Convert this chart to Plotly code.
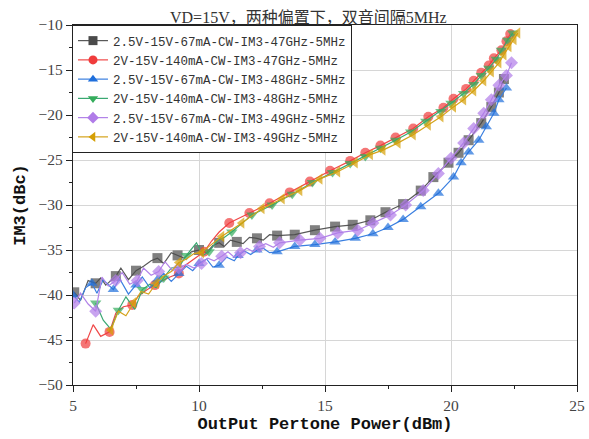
import plotly.graph_objects as go

# ---------------- data ----------------
names = [
    "2.5V-15V-67mA-CW-IM3-47GHz-5MHz",
    "2V-15V-140mA-CW-IM3-47GHz-5MHz",
    "2.5V-15V-67mA-CW-IM3-48GHz-5MHz",
    "2V-15V-140mA-CW-IM3-48GHz-5MHz",
    "2.5V-15V-67mA-CW-IM3-49GHz-5MHz",
    "2V-15V-140mA-CW-IM3-49GHz-5MHz",
]

# 2.5V 47GHz (black squares)
x_a = [5.05, 5.3, 5.6, 5.9, 6.1, 6.3, 6.7, 6.9, 7.2, 7.5, 7.8, 8.1, 8.35, 8.6, 8.9,
       9.15, 9.4, 9.7, 10.0, 10.3, 10.55, 10.8, 11.0, 11.25, 11.5, 11.75, 12.0, 12.3, 12.55, 12.8,
       13.1, 13.8, 14.6, 15.4, 16.1, 16.8, 17.4, 18.1, 18.8, 19.3, 19.9, 20.3, 20.7, 21.2, 21.6, 21.9, 22.1]
y_a = [-39.7, -40.6, -38.4, -38.7, -38.1, -38.9, -37.9, -37.0, -38.3, -37.3, -36.8, -36.2, -35.9, -36.5, -35.3,
       -35.6, -35.9, -35.2, -35.0, -35.3, -34.5, -34.2, -34.6, -33.9, -34.1, -34.3, -33.6, -33.7, -33.9, -33.3,
       -33.4, -33.3, -32.8, -32.4, -32.2, -31.7, -30.8, -29.9, -28.4, -26.9, -25.3, -24.2, -22.8, -20.9, -19.1, -17.5, -16.0]

# 2V 47GHz (red circles)
x_b = [5.5, 5.8, 6.1, 6.45, 6.7, 7.0, 7.35, 7.6, 7.95, 8.25, 8.55, 8.85, 9.2, 9.5, 9.8, 10.2, 10.5, 10.8,
       11.2, 12.0, 12.8, 13.6, 14.4, 15.2, 16.0, 16.6, 17.2, 17.8, 18.5, 19.1, 19.7, 20.1, 20.6, 20.9,
       21.2, 21.5, 21.7, 22.0, 22.2, 22.35]
y_b = [-45.4, -43.3, -44.6, -44.1, -42.0, -41.3, -41.1, -40.1, -39.4, -38.9, -38.4, -38.0, -37.6, -36.6, -36.0,
       -35.2, -34.0, -33.0, -32.0, -30.9, -29.8, -28.6, -27.4, -26.2, -25.1, -24.2, -23.4, -22.5, -21.5, -20.2,
       -19.2, -18.2, -17.1, -16.2, -15.3, -14.5, -13.7, -12.8, -11.8, -11.0]

# 2.5V 48GHz (blue triangles up)
x_c = [5.0, 5.25, 5.5, 5.75, 5.95, 6.2, 6.6, 6.85, 7.2, 7.5, 7.75, 8.05, 8.35, 8.6, 8.9,
       9.2, 9.5, 9.75, 10.0, 10.3, 10.55, 10.8, 11.1, 11.4, 11.55, 11.8, 12.05, 12.3, 12.55, 12.8,
       13.1, 13.8, 14.6, 15.4, 16.2, 16.9, 17.5, 18.1, 18.8, 19.5, 20.1, 20.4, 20.7, 21.1, 21.4, 21.7, 21.9, 22.2]
y_c = [-40.0, -40.8, -39.2, -38.7, -39.8, -38.3, -39.4, -38.2, -39.9, -38.9, -38.0, -39.2, -38.3, -37.6, -38.5,
       -37.6, -36.8, -37.3, -36.5, -36.0, -36.9, -36.7, -35.8, -36.2, -35.6, -35.1, -35.5, -35.0, -34.8, -35.3,
       -35.2, -34.6, -34.4, -34.1, -33.7, -33.2, -32.5, -31.6, -30.2, -28.7, -26.9, -25.3, -24.1, -22.8, -21.3,
       -19.8, -18.3, -17.0]

# 2V 48GHz (green triangles down)
x_d = [5.9, 6.2, 6.5, 6.8, 7.1, 7.45, 7.75, 8.05, 8.3, 8.6, 8.9, 9.2, 9.5, 9.9, 10.15, 10.4, 10.75, 11.0,
       11.3, 12.1, 12.9, 13.7, 14.5, 15.3, 16.0, 16.6, 17.2, 17.8, 18.4, 19.0, 19.6, 20.0, 20.5, 20.9,
       21.2, 21.5, 21.8, 22.0, 22.25, 22.45]
y_d = [-40.9, -42.8, -43.8, -41.7, -40.2, -41.6, -39.4, -38.8, -39.2, -38.1, -37.0, -36.9, -35.6, -34.2, -35.6,
       -35.2, -33.9, -33.6, -33.0, -31.1, -30.0, -28.8, -27.5, -26.4, -25.4, -24.6, -23.7, -22.8, -21.9, -20.7,
       -19.6, -18.7, -17.6, -16.6, -15.6, -14.8, -13.8, -12.8, -11.7, -10.9]

# 2.5V 49GHz (purple diamonds)
x_e = [5.05, 5.3, 5.6, 5.9, 6.15, 6.4, 6.7, 6.95, 7.25, 7.55, 7.8, 8.1, 8.4, 8.65, 8.95,
       9.2, 9.5, 9.8, 10.1, 10.35, 10.6, 10.9, 11.15, 11.4, 11.65, 11.9, 12.15, 12.4, 12.65, 12.95,
       13.2, 14.0, 14.8, 15.5, 16.3, 16.9, 17.6, 18.2, 18.9, 19.5, 20.0, 20.5, 20.9, 21.3, 21.6, 21.9, 22.2, 22.4]
y_e = [-40.9, -39.8, -41.0, -41.8, -38.0, -39.0, -38.4, -37.5, -38.8, -38.4, -37.0, -37.8, -37.4, -36.3, -37.3,
       -37.0, -36.6, -37.0, -36.5, -35.9, -36.2, -35.7, -35.2, -35.8, -35.3, -34.8, -35.2, -34.6, -34.3, -34.7,
       -34.2, -33.9, -33.7, -33.1, -32.8, -32.0, -31.1, -30.0, -28.4, -26.5, -24.8, -23.1, -21.5, -19.8, -18.3,
       -16.7, -15.6, -14.2]

# 2V 49GHz (gold triangles left)
x_f = [6.5, 6.8, 7.1, 7.4, 7.7, 8.0, 8.3, 8.6, 8.9, 9.2, 9.5, 9.8, 10.1, 10.4, 10.65,
       10.9, 11.7, 12.5, 13.3, 14.0, 14.8, 15.5, 16.2, 16.8, 17.3, 17.9, 18.5, 19.1, 19.6, 20.1, 20.5,
       20.9, 21.3, 21.6, 21.9, 22.1, 22.3, 22.5, 22.65]
y_f = [-43.9, -41.8, -42.3, -40.9, -39.6, -39.9, -38.7, -37.9, -37.4, -36.4, -36.0, -35.4, -35.3, -34.6, -34.0,
       -33.5, -32.0, -30.4, -29.3, -28.4, -27.1, -26.3, -25.3, -24.4, -23.9, -23.1, -22.2, -21.1, -20.2, -19.1,
       -18.3, -17.3, -16.2, -15.2, -14.2, -13.3, -12.4, -11.6, -10.9]

xs = [x_a, x_b, x_c, x_d, x_e, x_f]
ys = [y_a, y_b, y_c, y_d, y_e, y_f]

x_ticks = [5, 10, 15, 20, 25]
y_ticks = [-50, -45, -40, -35, -30, -25, -20, -15, -10]

# ---------------- styles ----------------
line_colors = ["#595959", "#f04848", "#3a7fe0", "#3aa872", "#b283e8", "#d4a21a"]
marker_colors = ["#4a4a4a", "#f03c3c", "#1f6fdc", "#35ad5c", "#b07ce8", "#d59f05"]
symbols = ["square", "circle", "triangle-up", "triangle-down", "diamond", "triangle-left"]
noisy_n = [30, 18, 30, 18, 30, 15]   # points in the noisy part: marker on every 3rd point
msize = 10

serif = "Liberation Serif, Noto Sans CJK SC, serif"
mono = "Liberation Mono, Noto Sans CJK SC, monospace"

fig = go.Figure()
for k in range(6):
    n = noisy_n[k]
    sizes = [msize if (i >= n or i % 3 == 0) else 0 for i in range(len(xs[k]))]
    fig.add_trace(go.Scatter(
        x=xs[k], y=ys[k], mode="lines+markers", name=names[k],
        legendgroup=str(k), showlegend=False,
        line=dict(color=line_colors[k], width=1.2),
        marker=dict(symbol=symbols[k], size=sizes, color=marker_colors[k], line=dict(width=0)),
    ))
for k in range(6):
    fig.add_trace(go.Scatter(
        x=[None], y=[None], mode="lines+markers", name=names[k],
        legendgroup=str(k), showlegend=True,
        line=dict(color=line_colors[k], width=1.2),
        marker=dict(symbol=symbols[k], size=9, color=marker_colors[k], line=dict(width=0)),
    ))

axis_common = dict(
    showline=True, linecolor="#222", linewidth=1.3, mirror=True,
    showgrid=True, gridcolor="#d6d6d6", gridwidth=1, zeroline=False,
    ticks="outside", ticklen=6, tickwidth=1.2, tickcolor="#222",
    tickfont=dict(family=serif, size=15.5, color="#444"),
    minor=dict(ticks="outside", ticklen=3, tickwidth=1, tickcolor="#222", showgrid=False),
    automargin=False,
)

fig.update_layout(
    width=589, height=439,
    margin=dict(l=73, r=12, t=25, b=54),
    paper_bgcolor="white", plot_bgcolor="white",
    showlegend=True,
    legend=dict(
        x=-0.002, y=1, xanchor="left", yanchor="top",
        bgcolor="white", bordercolor="#222", borderwidth=1,
        font=dict(family=mono, size=12.5, color="#333"),
        tracegroupgap=0, itemwidth=30,
    ),
    annotations=[dict(
        text="VD=15V，两种偏置下，双音间隔5MHz", xref="paper", yref="paper",
        x=0.467, y=1 + 8 / 360, xanchor="center", yanchor="middle", showarrow=False,
        font=dict(family=serif, size=16, color="#333"),
    )],
)
fig.update_xaxes(
    range=[5, 25], tickvals=x_ticks, minor_dtick=2.5, ticklabelstandoff=0,
    title=dict(text="<b>OutPut Pertone Power(dBm)</b>", font=dict(family=mono, size=17, color="#111"), standoff=4),
    **axis_common,
)
fig.update_yaxes(
    range=[-50, -10], tickvals=y_ticks, minor_dtick=2.5,
    title=dict(text="<b>IM3(dBc)</b>", font=dict(family=mono, size=17, color="#111"), standoff=8),
    **axis_common,
)

fig.write_html("out.html")
